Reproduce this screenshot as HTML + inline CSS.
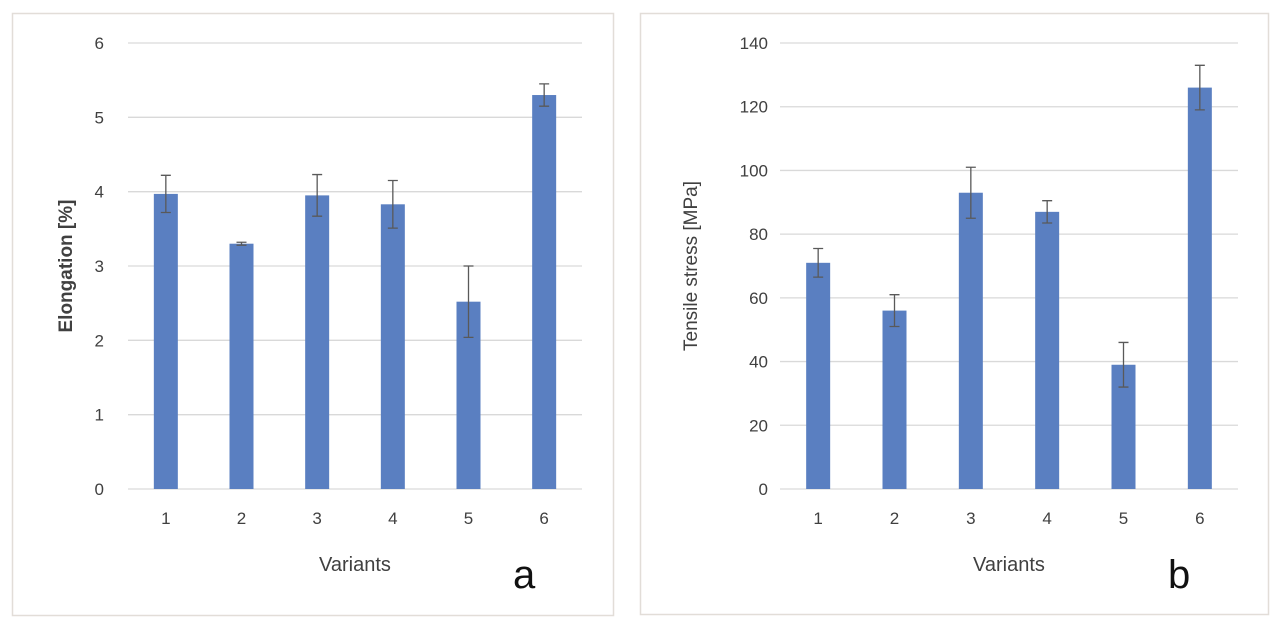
<!DOCTYPE html>
<html><head><meta charset="utf-8"><style>
html,body{margin:0;padding:0;background:#fff;}
svg{display:block;font-family:"Liberation Sans",sans-serif;}
</style></head><body>
<svg id="chart" width="1280" height="633">
<rect x="12.5" y="13.5" width="601" height="602" fill="#fff" stroke="#e2ddd8" stroke-width="1.5"/>
<rect x="640.5" y="13.5" width="628" height="601" fill="#fff" stroke="#e2ddd8" stroke-width="1.5"/>
<g id="ga"></g><g id="gb"></g>
</svg>
<script>
const categories = ["1","2","3","4","5","6"];
const elongValues = [3.97,3.3,3.95,3.83,2.52,5.3];
const elongErrors = [0.25,0.02,0.28,0.32,0.48,0.15];
const elongTicks = [0,1,2,3,4,5,6];
const stressValues = [71,56,93,87,39,126];
const stressErrors = [4.5,5,8,3.5,7,7];
const stressTicks = [0,20,40,60,80,100,120,140];
const NS="http://www.w3.org/2000/svg";
function mk(p,tag,at,txt){const e=document.createElementNS(NS,tag);for(const k in at)e.setAttribute(k,at[k]);if(txt!==undefined)e.textContent=txt;p.appendChild(e);return e;}
function draw(g,o){
  const y=v=>o.y0-(v/o.max)*(o.y0-o.y1);
  const step=(o.xr-o.xl)/categories.length;
  const x=i=>o.xl+step*(i+0.5);
  o.ticks.forEach(t=>{
    const l=mk(g,'line',{x1:o.xl,x2:o.xr,y1:y(t),y2:y(t),stroke:'#d9d9d9','stroke-width':1.3});
    
    
    const tx=mk(g,'text',{x:o.xl-o.tickGap,y:y(t)+6,'text-anchor':'end','font-size':17,fill:'#404040'},t);
    
    
  });
  categories.forEach((c,i)=>{
    const v=o.vals[i],e=o.errs[i];
    const r=mk(g,'rect',{x:x(i)-12,y:y(v),width:24,height:o.y0-y(v),fill:'#5a7fc1'});
    
    
    const eb=mk(g,'path',{d:`M${x(i)},${y(v+e)}V${y(v-e)}M${x(i)-5},${y(v+e)}H${x(i)+5}M${x(i)-5},${y(v-e)}H${x(i)+5}`,stroke:'#595959','stroke-width':1.3,fill:'none'});
    
    
    const tl=mk(g,'text',{x:x(i),y:o.y0+35,'text-anchor':'middle','font-size':17,fill:'#404040'},c);
    
    
  });
  const xt=mk(g,'text',{x:(o.xl+o.xr)/2,y:571,'text-anchor':'middle','font-size':20,fill:'#404040'},'Variants');
  
  
  const cy=(o.y0+o.y1)/2;
  const yt=mk(g,'text',{x:o.ytx,y:cy,'text-anchor':'middle','font-size':19,'font-weight':o.bold?'bold':'normal',fill:'#404040',transform:`rotate(-90 ${o.ytx} ${cy})`},o.ytitle);
  
  
  const pl=mk(g,'text',{x:o.lx,y:588,'font-size':40,fill:'#111'},o.label);
  
  
}
draw(document.getElementById('ga'),{xl:128,xr:582,y0:489,y1:43,max:6,ticks:elongTicks,vals:elongValues,errs:elongErrors,ytitle:'Elongation [%]',ytx:72,bold:true,label:'a',lx:513,tickGap:24});
draw(document.getElementById('gb'),{xl:780,xr:1238,y0:489,y1:43,max:140,ticks:stressTicks,vals:stressValues,errs:stressErrors,ytitle:'Tensile stress [MPa]',ytx:697,bold:false,label:'b',lx:1168,tickGap:12});
</script>
</body></html>
